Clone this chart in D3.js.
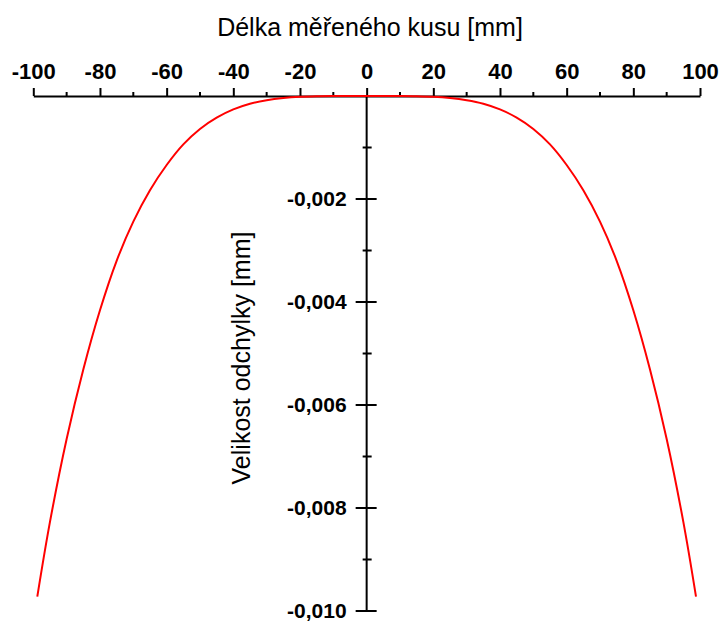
<!DOCTYPE html>
<html>
<head>
<meta charset="utf-8">
<script src="https://cdn.jsdelivr.net/npm/d3@7"></script>
<style>
  body { margin: 0; background: #fff; }
  svg text { font-family: "Liberation Sans", Arial, sans-serif; fill: #000; }
</style>
</head>
<body>
<div id="chart"></div>
<script>
// measured length position [mm]
var lengths = [-98.8, -95, -90, -85, -80, -75, -70, -65, -60, -55, -50, -45, -40, -35, -30, -25, -20, -15, -10, -5,
               0, 5, 10, 15, 20, 25, 30, 35, 40, 45, 50, 55, 60, 65, 70, 75, 80, 85, 90, 95, 98.8];
// deviation [mm]
var deviations = [-0.00972, -0.00827, -0.00666, -0.00531, -0.00416, -0.00320, -0.00244, -0.00183, -0.00134, -0.00094,
                  -0.00064, -0.00042, -0.00026, -0.00015, -0.000082, -0.00004, -0.000016, -0.000005, -0.000001, 0,
                  0,
                  0, -0.000001, -0.000005, -0.000016, -0.00004, -0.000082, -0.00015, -0.00026, -0.00042, -0.00064,
                  -0.00094, -0.00134, -0.00183, -0.00244, -0.00320, -0.00416, -0.00531, -0.00666, -0.00827, -0.00972];

var xMajorTicks = [-100, -80, -60, -40, -20, 0, 20, 40, 60, 80, 100];
var xMinorTicks = [-90, -70, -50, -30, -10, 10, 30, 50, 70, 90];
var yMajorTicks = [-0.002, -0.004, -0.006, -0.008, -0.010];
var yMinorTicks = [-0.001, -0.003, -0.005, -0.007, -0.009];

const width = 725;
const height = 623;

const svg = d3.select("#chart")
              .append("svg")
              .attr("width", width)
              .attr("height", height);

const x = d3.scaleLinear().domain([-100, 100]).range([33.3, 700]);
const y = d3.scaleLinear().domain([-0.010, 0]).range([611, 96]);

// x axis on top (ticks pointing up)
const xAxis = svg.append("g")
   .attr("transform", "translate(0," + y(0) + ")")
   .call(d3.axisTop(x).tickValues(xMajorTicks).tickSize(8).tickSizeOuter(0).tickPadding(9)
           .tickFormat(function(d) { return d; }));
xAxis.select(".domain").attr("stroke", "#000").attr("stroke-width", 2);
xAxis.selectAll(".tick line").attr("stroke", "#000").attr("stroke-width", 2);
xAxis.selectAll(".tick text")
     .style("font-size", "22px").style("font-weight", "bold")
     .text(function(d) { return d < 0 ? "-" + Math.abs(d) : d; });

svg.append("g")
   .selectAll("line")
   .data(xMinorTicks)
   .enter()
   .append("line")
   .attr("x1", function(d) { return x(d); })
   .attr("x2", function(d) { return x(d); })
   .attr("y1", y(0) - 4)
   .attr("y2", y(0))
   .attr("stroke", "#000")
   .attr("stroke-width", 2);

// y axis through zero
svg.append("line")
   .attr("x1", x(0)).attr("x2", x(0))
   .attr("y1", y(0)).attr("y2", y(-0.010))
   .attr("stroke", "#000")
   .attr("stroke-width", 2);

svg.append("g")
   .selectAll("line")
   .data(yMajorTicks)
   .enter()
   .append("line")
   .attr("x1", x(0) - 11)
   .attr("x2", x(0) + 10)
   .attr("y1", function(d) { return y(d); })
   .attr("y2", function(d) { return y(d); })
   .attr("stroke", "#000")
   .attr("stroke-width", 2);

svg.append("g")
   .selectAll("line")
   .data(yMinorTicks)
   .enter()
   .append("line")
   .attr("x1", x(0) - 4)
   .attr("x2", x(0) + 5)
   .attr("y1", function(d) { return y(d); })
   .attr("y2", function(d) { return y(d); })
   .attr("stroke", "#000")
   .attr("stroke-width", 2);

svg.append("g")
   .selectAll("text")
   .data(yMajorTicks)
   .enter()
   .append("text")
   .attr("x", x(0) - 20)
   .attr("y", function(d) { return y(d); })
   .attr("dy", "0.35em")
   .style("text-anchor", "end")
   .style("font-size", "21px")
   .style("font-weight", "bold")
   .text(function(d) { return d3.format(".3f")(d).replace("−", "-").replace(".", ","); });

// curve
const line = d3.line()
   .x(function(d, i) { return x(lengths[i]); })
   .y(function(d) { return y(d); })
   .curve(d3.curveCatmullRom);

svg.append("path")
   .datum(deviations)
   .attr("fill", "none")
   .attr("stroke", "#ff0000")
   .attr("stroke-width", 2)
   .attr("d", line);

// titles
svg.append("text")
   .attr("x", 370)
   .attr("y", 36)
   .style("text-anchor", "middle")
   .style("font-size", "25px")
   .text("Délka měřeného kusu [mm]");

svg.append("text")
   .attr("transform", "translate(250,358) rotate(-90)")
   .style("text-anchor", "middle")
   .style("font-size", "25px")
   .text("Velikost odchylky [mm]");
</script>
</body>
</html>
